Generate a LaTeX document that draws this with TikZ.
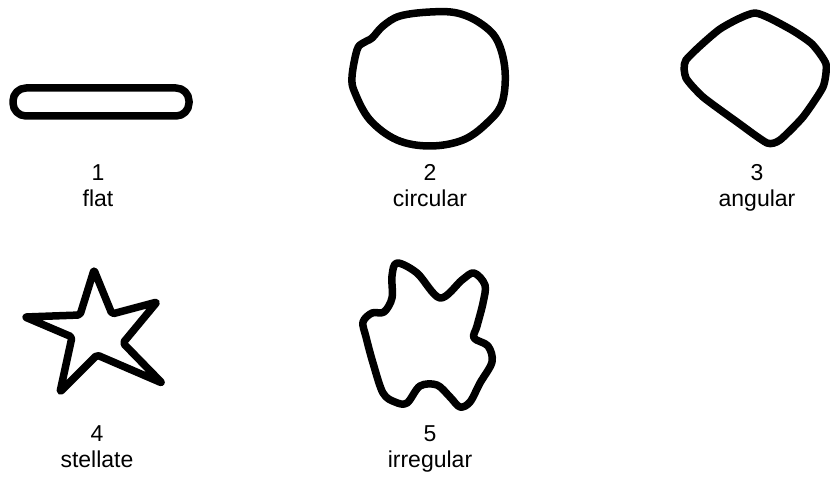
\documentclass[tikz,border=0pt]{standalone}
\usepackage{fontspec}
\setmainfont{Liberation Sans}
\begin{document}
\begin{tikzpicture}[x=1pt,y=-1pt,
  outline/.style={line width=7.5pt,line join=round,line cap=round,black},
  numlabel/.style={anchor=base,inner sep=0pt,font=\fontsize{23}{27}\selectfont},
  namelabel/.style={anchor=base,inner sep=0pt,font=\fontsize{23}{27}\selectfont}]
\path[use as bounding box,fill=white] (0,0) rectangle (830,481);

% 1 flat
\draw[outline,rounded corners=13pt] (13,88) rectangle (189,116);
% 2 circular
\draw[outline] plot[smooth cycle,tension=0.6] coordinates {
 (352,77) (357,50) (363,43) (372,38) (383,26) (400,16) (430,12) (457,13)
 (480,23) (497,40) (505,70) (502,103) (487,123) (463,140) (430,146)
 (397,140) (370,120) (355,93)};
% 3 angular
\draw[outline] plot[smooth cycle,tension=0.35] coordinates {
 (755,13) (790,29) (812,44) (826,64) (823,87) (803,117) (780,140)
 (767,143) (737,122) (703,97) (686,78) (686,60) (720,29)};
% 4 stellate
\draw[outline,rounded corners=2pt] (94,270) -- (112,314) -- (157,302)
 -- (123,343) -- (162,383) -- (97,355) -- (60,392) -- (72,337)
 -- (25,317) -- (80,315) -- cycle;
% 5 irregular
\draw[outline] plot[smooth cycle,tension=0.55] coordinates {
 (397,263) (417,273) (440,298) (462,280) (474,273) (485,285) (483,303)
 (477,326) (474,338) (488,346) (492,362) (480,383) (470,402) (460,407)
 (450,397) (437,385) (420,386) (407,403) (395,402) (383,393) (373,363)
 (366,337) (363,322) (372,313) (384,312) (392,298) (392,276)};

\node[numlabel] (n1) at (98,181) {1};
\node[namelabel] (t1) at (98,207) {flat};
\node[numlabel] (n2) at (430,181) {2};
\node[namelabel] (t2) at (430,207) {circular};
\node[numlabel] (n3) at (757,181) {3};
\node[namelabel] (t3) at (757,207) {angular};
\node[numlabel] (n4) at (97,441) {4};
\node[namelabel] (t4) at (97,467) {stellate};
\node[numlabel] (n5) at (430,441) {5};
\node[namelabel] (t5) at (430,467) {irregular};
\end{tikzpicture}
\end{document}
